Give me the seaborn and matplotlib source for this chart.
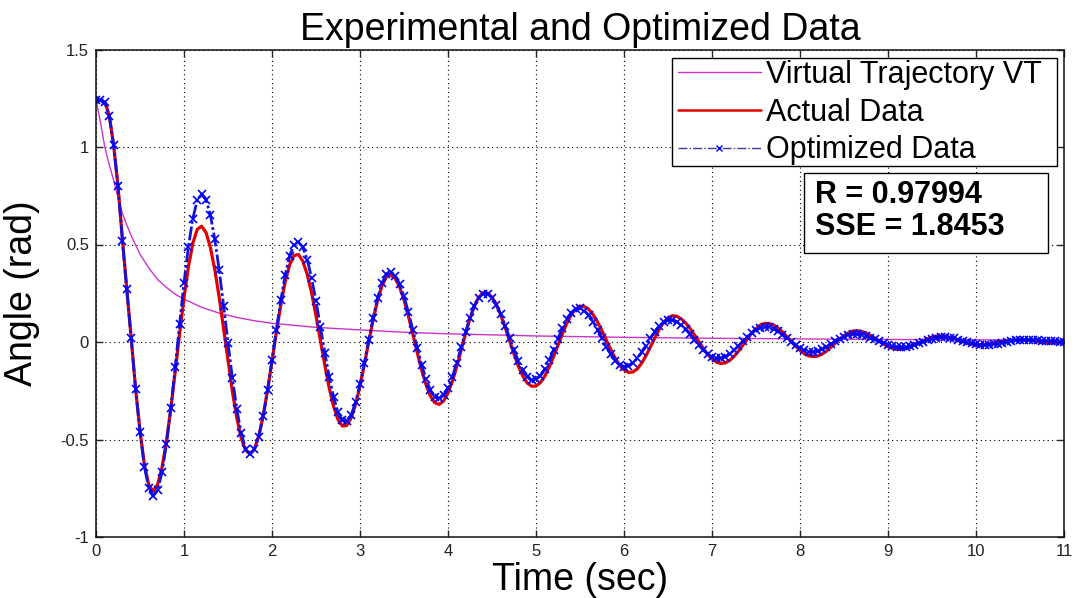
import numpy as np
import matplotlib
matplotlib.use("Agg")
import matplotlib.pyplot as plt
import seaborn as sns
from matplotlib.patches import Rectangle
from matplotlib.lines import Line2D

# Sampling instants of the measured / optimized response (0.05 s apart)
time_s = np.linspace(0.0, 11.0, 221)

# Measured joint angle (rad), ten samples per row = 0.5 s per row
actual_rad = [
    1.24, 1.24, 1.23, 1.165, 1.01, 0.80, 0.53, 0.27, 0.02, -0.24,
    -0.456, -0.629, -0.734, -0.765, -0.731, -0.644, -0.511, -0.343, -0.153, 0.042,
    0.226, 0.385, 0.506, 0.577, 0.594, 0.562, 0.485, 0.371, 0.229, 0.068,
    -0.097, -0.254, -0.389, -0.493, -0.556, -0.575, -0.549, -0.481, -0.377, -0.246,
    -0.100, 0.050, 0.190, 0.309, 0.395, 0.443, 0.449, 0.415, 0.347, 0.252,
    0.135, 0.009, -0.118, -0.235, -0.330, -0.398, -0.431, -0.428, -0.389, -0.320,
    -0.226, -0.115, 0.002, 0.115, 0.214, 0.289, 0.334, 0.344, 0.326, 0.282,
    0.216, 0.133, 0.041, -0.054, -0.143, -0.219, -0.277, -0.311, -0.320, -0.302,
    -0.261, -0.200, -0.125, -0.041, 0.043, 0.121, 0.185, 0.230, 0.253, 0.251,
    0.230, 0.191, 0.138, 0.075, 0.006, -0.062, -0.124, -0.175, -0.210, -0.227,
    -0.226, -0.208, -0.175, -0.129, -0.075, -0.016, 0.042, 0.095, 0.139, 0.168,
    0.184, 0.182, 0.167, 0.140, 0.102, 0.057, 0.009, -0.039, -0.083, -0.119,
    -0.143, -0.156, -0.154, -0.138, -0.109, -0.070, -0.025, 0.021, 0.065, 0.100,
    0.124, 0.135, 0.132, 0.119, 0.098, 0.070, 0.037, 0.002, -0.032, -0.062,
    -0.087, -0.103, -0.110, -0.107, -0.095, -0.074, -0.047, -0.017, 0.015, 0.045,
    0.069, 0.087, 0.095, 0.095, 0.087, 0.072, 0.052, 0.028, 0.003, -0.022,
    -0.043, -0.060, -0.071, -0.075, -0.072, -0.062, -0.047, -0.027, -0.006, 0.014,
    0.033, 0.047, 0.056, 0.058, 0.054, 0.046, 0.034, 0.020, 0.004, -0.011,
    -0.023, -0.032, -0.037, -0.036, -0.032, -0.025, -0.015, -0.004, 0.007, 0.017,
    0.025, 0.030, 0.031, 0.029, 0.024, 0.018, 0.010, 0.002, -0.006, -0.011,
    -0.014, -0.015, -0.013, -0.010, -0.006, -0.002, 0.002, 0.006, 0.009, 0.010,
    0.011, 0.011, 0.009, 0.006, 0.003, 0.000, -0.003, -0.004, -0.005, -0.004,
    -0.002,
]

# Model output after parameter optimization (rad), same sampling
optimized_rad = [
    1.24, 1.24, 1.23, 1.16, 1.01, 0.80, 0.52, 0.27, 0.02, -0.24,
    -0.46, -0.64, -0.75, -0.79, -0.76, -0.669, -0.525, -0.34, -0.129, 0.092,
    0.304, 0.489, 0.633, 0.726, 0.757, 0.730, 0.651, 0.527, 0.368, 0.186,
    -0.003, -0.185, -0.344, -0.468, -0.547, -0.574, -0.551, -0.485, -0.380, -0.245,
    -0.093, 0.064, 0.214, 0.343, 0.441, 0.499, 0.513, 0.486, 0.423, 0.328,
    0.210, 0.079, -0.054, -0.178, -0.283, -0.360, -0.402, -0.406, -0.374, -0.309,
    -0.217, -0.107, 0.011, 0.125, 0.226, 0.302, 0.348, 0.359, 0.341, 0.298,
    0.234, 0.153, 0.063, -0.029, -0.116, -0.190, -0.247, -0.281, -0.289, -0.272,
    -0.234, -0.177, -0.106, -0.027, 0.052, 0.124, 0.185, 0.227, 0.248, 0.247,
    0.227, 0.191, 0.142, 0.084, 0.021, -0.041, -0.098, -0.145, -0.177, -0.194,
    -0.192, -0.173, -0.139, -0.093, -0.039, 0.017, 0.071, 0.117, 0.151, 0.170,
    0.172, 0.160, 0.137, 0.103, 0.063, 0.019, -0.024, -0.064, -0.095, -0.117,
    -0.126, -0.122, -0.108, -0.084, -0.053, -0.018, 0.019, 0.053, 0.082, 0.102,
    0.112, 0.112, 0.103, 0.087, 0.065, 0.040, 0.012, -0.016, -0.041, -0.062,
    -0.076, -0.083, -0.083, -0.075, -0.061, -0.042, -0.020, 0.004, 0.027, 0.048,
    0.064, 0.074, 0.078, 0.075, 0.067, 0.054, 0.038, 0.020, 0.001, -0.017,
    -0.032, -0.043, -0.049, -0.050, -0.046, -0.037, -0.026, -0.012, 0.003, 0.017,
    0.028, 0.036, 0.041, 0.040, 0.037, 0.031, 0.023, 0.013, 0.003, -0.007,
    -0.016, -0.022, -0.026, -0.027, -0.025, -0.021, -0.015, -0.007, 0.001, 0.009,
    0.016, 0.021, 0.024, 0.024, 0.022, 0.018, 0.012, 0.005, -0.001, -0.007,
    -0.012, -0.015, -0.015, -0.014, -0.011, -0.008, -0.004, 0.000, 0.004, 0.008,
    0.010, 0.012, 0.012, 0.011, 0.009, 0.007, 0.005, 0.004, 0.003, 0.002,
    0.002,
]

# Virtual trajectory (equilibrium path) of the model
vt_time_s = [0.0, 0.05, 0.1, 0.15, 0.2, 0.25, 0.3, 0.35, 0.4, 0.5, 0.6, 0.7,
             0.8, 0.9, 1.0, 1.2, 1.4, 1.6, 1.8, 2.0, 2.5, 3.0, 3.5, 4.0,
             5.0, 6.0, 7.0, 8.0, 9.0, 10.0, 11.0]
vt_rad = [1.24, 1.13, 1.00, 0.91, 0.83, 0.74, 0.66, 0.60, 0.545, 0.45, 0.38, 0.32,
          0.28, 0.245, 0.22, 0.178, 0.148, 0.126, 0.109, 0.096, 0.075, 0.062, 0.05, 0.042,
          0.031, 0.024, 0.019, 0.016, 0.013, 0.011, 0.010]

x_ticks = list(range(0, 12))
y_ticks = [-1, -0.5, 0, 0.5, 1, 1.5]
y_tick_labels = ["-1", "-0.5", "0", "0.5", "1", "1.5"]
series_labels = ["Virtual Trajectory VT", "Actual Data", "Optimized Data"]
fit_stats = ["R = 0.97994", "SSE = 1.8453"]

VT_COLOR = "#cc33cc"
ACT_COLOR = "#e00000"
OPT_COLOR = "#1414d8"
OPT_MARK = "#0000ff"

sns.set_theme(style="white")
plt.rcParams["font.family"] = ["Liberation Sans", "DejaVu Sans"]
plt.rcParams["text.color"] = "black"
plt.rcParams["axes.labelcolor"] = "black"

W, H = 1080, 598
fig = plt.figure(figsize=(W / 100, H / 100), dpi=100)
ax_l, ax_r, ax_t, ax_b = 96, 1064, 49.5, 537
ax = fig.add_axes([ax_l / W, 1 - ax_b / H, (ax_r - ax_l) / W, (ax_b - ax_t) / H])


def fx(px):
    return (px - ax_l) / (ax_r - ax_l)


def fy(py):
    return (ax_b - py) / (ax_b - ax_t)


sns.lineplot(x=vt_time_s, y=vt_rad, ax=ax, color=VT_COLOR, linewidth=1.0, legend=False)
sns.lineplot(x=time_s, y=actual_rad, ax=ax, color=ACT_COLOR, linewidth=2.3, legend=False)
sns.lineplot(x=time_s, y=optimized_rad, ax=ax, color=OPT_COLOR, linewidth=2.0,
             linestyle=(0, (5, 1, 1, 1)), marker="x", markersize=5.5,
             markeredgewidth=1.2, markeredgecolor=OPT_MARK, legend=False)

ax.set_xlim(0, 11)
ax.set_ylim(-1, 1.5)
ax.set_xticks(x_ticks)
ax.set_xticklabels([str(v) for v in x_ticks])
ax.set_yticks(y_ticks)
ax.set_yticklabels(y_tick_labels)

ax.grid(True, which="major", color="black", linestyle=(0, (1, 3)), linewidth=0.8)
ax.set_axisbelow(True)
for s in ax.spines.values():
    s.set_color("#111111")
    s.set_linewidth(1.1)
ax.tick_params(direction="in", length=5, width=1, top=True, right=True,
               bottom=True, left=True, labelsize=12, labelcolor="#222222", pad=5)

ax.set_title("Experimental and Optimized Data", fontsize=27, pad=7, color="black")
ax.set_xlabel("Time (sec)", fontsize=27)
ax.set_ylabel("Angle (rad)", fontsize=27)
ax.xaxis.set_label_coords(0.5, -0.052)
ax.yaxis.set_label_coords(-0.058, 0.5)

# Legend: frame drawn separately so its padding can differ per side
ax.add_patch(Rectangle((fx(672), fy(166)), fx(1057) - fx(672), fy(58) - fy(166),
                       transform=ax.transAxes, facecolor="white", edgecolor="black",
                       linewidth=1.0, zorder=4.9))
handles = [
    Line2D([], [], color=VT_COLOR, linewidth=1.0),
    Line2D([], [], color=ACT_COLOR, linewidth=1.8),
    Line2D([], [], color="#3a3aa0", linewidth=1.0, linestyle="-.", marker="x",
           markersize=4, markeredgecolor=OPT_MARK),
]
leg = ax.legend(handles, series_labels, loc="upper left",
                bbox_to_anchor=(fx(678), fy(60)), borderaxespad=0, borderpad=0,
                fontsize=22, frameon=False, handlelength=2.7, handletextpad=0.17,
                labelspacing=0.25, numpoints=1)
leg.set_zorder(5)

# Fit statistics box
ax.add_patch(Rectangle((fx(804), fy(253)), fx(1048) - fx(804), fy(173) - fy(253),
                       transform=ax.transAxes, facecolor="white", edgecolor="black",
                       linewidth=1.0, zorder=6))
for line, py in zip(fit_stats, [195, 227]):
    ax.text(fx(815), fy(py), line, transform=ax.transAxes,
            ha="left", va="center", fontsize=22, fontweight="bold", zorder=7)

fig.savefig("out.png", dpi=100)
